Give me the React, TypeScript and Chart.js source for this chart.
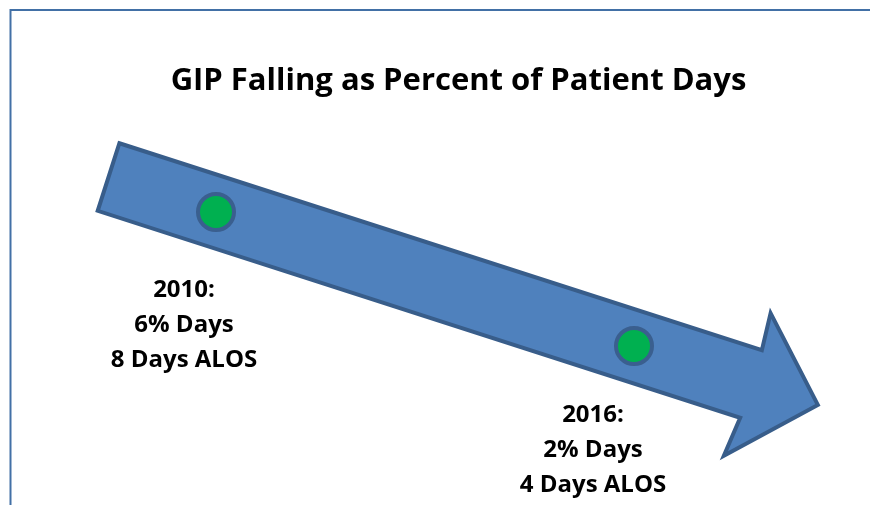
import React, { useEffect, useRef } from "react";
import { Chart, registerables } from "chart.js";

Chart.register(...registerables);

const chartTitle = "GIP Falling as Percent of Patient Days";
const years = [2010, 2016];
const gipPercent = [6, 2];
const alosDays = [8, 4];

const FONT = "'Open Sans', Lato, sans-serif";

const arrowPlugin = {
  id: "trendArrow",
  beforeDatasetsDraw(chart: any) {
    const meta = chart.getDatasetMeta(0);
    if (!meta || meta.data.length < 2) return;
    const p1 = meta.data[0];
    const p2 = meta.data[meta.data.length - 1];
    const dx = p2.x - p1.x;
    const dy = p2.y - p1.y;
    const len = Math.hypot(dx, dy);
    const d = { x: dx / len, y: dy / len };
    const n = { x: -d.y, y: d.x };
    const pt = (a: number, p: number) => [p1.x + a * d.x + p * n.x, p1.y + a * d.y + p * n.y];
    const shape = [
      [-113, -36],
      [562, -35],
      [559, -73],
      [632, 0],
      [558, 77],
      [562, 36],
      [-113, 35],
    ];
    const ctx = chart.ctx;
    ctx.save();
    ctx.beginPath();
    shape.forEach(([a, p], i) => {
      const [x, y] = pt(a, p);
      if (i === 0) ctx.moveTo(x, y);
      else ctx.lineTo(x, y);
    });
    ctx.closePath();
    ctx.fillStyle = "#4F81BD";
    ctx.fill();
    ctx.lineWidth = 4;
    ctx.lineJoin = "miter";
    ctx.miterLimit = 10;
    ctx.strokeStyle = "#385D8A";
    ctx.stroke();
    ctx.restore();
  },
  afterDatasetsDraw(chart: any) {
    const meta = chart.getDatasetMeta(0);
    const ctx = chart.ctx;
    const offsets = [
      [-32, 85],
      [-41, 76],
    ];
    ctx.save();
    ctx.fillStyle = "#000000";
    ctx.font = `bold 24px ${FONT}`;
    ctx.textAlign = "center";
    ctx.textBaseline = "alphabetic";
    meta.data.forEach((el: any, i: number) => {
      const lines = [`${years[i]}:`, `${gipPercent[i]}% Days`, `${alosDays[i]} Days ALOS`];
      const [ox, oy] = offsets[i] || [0, 80];
      lines.forEach((t, j) => {
        ctx.fillText(t, el.x + ox, el.y + oy + j * 35);
      });
    });
    ctx.restore();
  },
  afterDraw(chart: any) {
    const ctx = chart.ctx;
    ctx.save();
    ctx.strokeStyle = "#4270A6";
    ctx.lineWidth = 2;
    ctx.beginPath();
    ctx.moveTo(10.5, chart.height + 5);
    ctx.lineTo(10.5, 10);
    ctx.lineTo(chart.width + 5, 10);
    ctx.stroke();
    ctx.restore();
  },
};

export default function App() {
  const ref = useRef<HTMLCanvasElement | null>(null);
  useEffect(() => {
    if (!ref.current) return;
    const pxPerYear = 418 / 6;
    const pxPerPct = 134 / 4;
    const areaTop = 106;
    const padLeft = 47;
    const chart = new Chart(ref.current, {
      type: "scatter",
      data: {
        datasets: [
          {
            label: "GIP % of patient days",
            data: years.map((y, i) => ({ x: y, y: gipPercent[i] })),
            pointRadius: 18,
            pointHoverRadius: 18,
            pointBorderWidth: 4,
            pointBackgroundColor: "#00B050",
            pointBorderColor: "#3A5F8F",
            showLine: false,
          },
        ],
      },
      options: {
        responsive: false,
        animation: false,
        layout: { padding: { left: padLeft, right: 0, top: 0, bottom: 0 }, autoPadding: false },
        plugins: {
          legend: { display: false },
          tooltip: { enabled: false },
          title: {
            display: true,
            text: chartTitle,
            color: "#000000",
            font: { family: FONT, size: 31, weight: "bold", lineHeight: 1.2 },
            padding: { top: 62.4, bottom: 6.4 },
          },
        },
        scales: {
          x: {
            type: "linear",
            display: false,
            min: 2010 - (216 - padLeft) / pxPerYear,
            max: 2010 + (870 - 216) / pxPerYear,
          },
          y: {
            type: "linear",
            display: false,
            min: 2 - (505 - 346) / pxPerPct,
            max: 6 + (212 - areaTop) / pxPerPct,
          },
        },
      },
      plugins: [arrowPlugin],
    });
    return () => chart.destroy();
  }, []);
  return (
    <div style={{ position: "absolute", left: 0, top: 0, width: 870, height: 505, background: "#ffffff" }}>
      <canvas ref={ref} width={870} height={505} style={{ width: 870, height: 505, display: "block" }} />
    </div>
  );
}
